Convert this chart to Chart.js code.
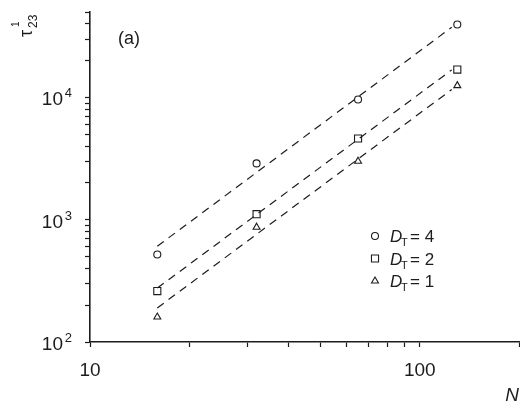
<!DOCTYPE html>
<html lang="en">
<head>
  <meta charset="UTF-8"/>
  <title>tau23 vs N</title>
  <script src="https://cdn.jsdelivr.net/npm/chart.js"></script>
  <style>
    html, body { margin: 0; padding: 0; background: #fff; }
    .wrap { width: 520px; height: 403px; position: relative; }
  </style>
</head>
<body>
<div class="wrap"><canvas id="tauChart" width="520" height="403"></canvas></div>
<script>
  // chain lengths N
  const nValues = [16, 32, 65, 130];
  // relaxation times for each D_T
  const tauD4 = [520, 2890, 9630, 39500];
  const tauD2 = [261, 1110, 4620, 16900];
  const tauD1 = [160, 869, 3010, 12500];
  // dashed guide lines (start / end)
  const fitN = [16, 125];
  const fitD4 = [607, 37500];
  const fitD2 = [276, 16800];
  const fitD1 = [190, 11600];
  // axis ticks
  const xTicks = [10, 20, 30, 40, 50, 60, 70, 80, 90, 100, 200];
  const xLabels = [10, 100];
  const yTicks = [100, 200, 300, 400, 500, 600, 700, 800, 900,
                  1000, 2000, 3000, 4000, 5000, 6000, 7000, 8000, 9000,
                  10000, 20000, 30000, 40000, 50000];
  const yLabels = [[100, '2'], [1000, '3'], [10000, '4']];
  const legendRows = ['4', '2', '1'];

  const FONT = '"Liberation Sans", Arial, sans-serif';
  const INK = '#1c1c1c';

  const pts = (xs, ys) => xs.map((x, i) => ({ x: x, y: ys[i] }));

  function markerSet(data, style, r) {
    return {
      type: 'scatter', data: data, pointStyle: style, pointRadius: r,
      pointBorderColor: INK, pointBackgroundColor: 'rgba(0,0,0,0)',
      pointBorderWidth: 1.1, showLine: false
    };
  }
  function fitSet(data) {
    return {
      type: 'line', data: data, borderColor: INK, borderWidth: 1.2,
      borderDash: [8, 6], pointRadius: 0, fill: false
    };
  }

  const decorPlugin = {
    id: 'decor',
    afterDraw(chart) {
      const ctx = chart.ctx;
      const ys = chart.scales.y;
      ctx.save();
      ctx.fillStyle = INK;
      ctx.textAlign = 'right';
      ctx.textBaseline = 'alphabetic';
      // y tick labels 10^n
      yLabels.forEach(([v, p]) => {
        const py = ys.getPixelForValue(v);
        ctx.font = '19px ' + FONT;
        ctx.fillText('10', 63, py + 8);
        ctx.font = '13px ' + FONT;
        ctx.fillText(p, 72, py);
      });
      // y axis title, rotated
      ctx.save();
      ctx.translate(32, 37);
      ctx.rotate(-Math.PI / 2);
      ctx.textAlign = 'left';
      ctx.font = '18px ' + FONT;
      ctx.fillText('\u03C4', 0, 0);
      ctx.font = '12px ' + FONT;
      ctx.fillText('23', 9, 5);
      ctx.font = '10px ' + FONT;
      ctx.fillText('1', 10, -13);
      ctx.restore();
      // panel label
      ctx.textAlign = 'left';
      ctx.font = '18px ' + FONT;
      ctx.fillText('(a)', 118, 44);
      // x axis title
      ctx.textAlign = 'right';
      ctx.font = 'italic 19px ' + FONT;
      ctx.fillText('N', 519, 401);
      // legend
      const sets = [chart.data.datasets[3], chart.data.datasets[4], chart.data.datasets[5]];
      legendRows.forEach((lab, i) => {
        const cy = 236 + i * 22.5;
        const ds = sets[i];
        ctx.strokeStyle = INK;
        ctx.fillStyle = 'rgba(0,0,0,0)';
        ctx.lineWidth = 1.1;
        Chart.helpers.drawPoint(ctx, { pointStyle: ds.pointStyle, radius: ds.pointRadius, rotation: 0, borderWidth: 1.1 }, 375, cy);
        ctx.fillStyle = INK;
        ctx.textAlign = 'left';
        ctx.font = 'italic 17px ' + FONT;
        ctx.fillText('D', 390, cy + 6);
        ctx.font = '11px ' + FONT;
        ctx.fillText('T', 401, cy + 10);
        ctx.font = '17px ' + FONT;
        ctx.fillText('= ' + lab, 410, cy + 6);
      });
      ctx.restore();
    }
  };

  new Chart(document.getElementById('tauChart'), {
    data: {
      datasets: [
        fitSet(pts(fitN, fitD4)),
        fitSet(pts(fitN, fitD2)),
        fitSet(pts(fitN, fitD1)),
        markerSet(pts(nValues, tauD4), 'circle', 3.5),
        markerSet(pts(nValues, tauD2), 'rect', 5),
        markerSet(pts(nValues, tauD1), 'triangle', 4)
      ]
    },
    options: {
      responsive: false,
      animation: false,
      layout: { autoPadding: false, padding: { top: 12, right: 1, left: 0, bottom: 0 } },
      plugins: { legend: { display: false }, tooltip: { enabled: false } },
      scales: {
        x: {
          type: 'logarithmic', min: 10, max: 200,
          afterBuildTicks: s => { s.ticks = xTicks.map(v => ({ value: v })); },
          afterFit: s => { s.height = 61; s.paddingLeft = 0; s.paddingRight = 0; },
          grid: { drawOnChartArea: false, drawTicks: true, tickLength: 5, tickColor: INK, tickWidth: 1.2 },
          border: { display: true, color: INK, width: 1.6 },
          ticks: {
            autoSkip: false, maxRotation: 0, padding: 12, color: INK,
            font: { family: FONT, size: 19 },
            callback: v => xLabels.includes(v) ? String(v) : ''
          }
        },
        y: {
          type: 'logarithmic', min: 100, max: 50000,
          afterBuildTicks: s => { s.ticks = yTicks.map(v => ({ value: v })); },
          afterFit: s => { s.width = 90; s.paddingTop = 0; s.paddingBottom = 0; },
          grid: { drawOnChartArea: false, drawTicks: true, tickLength: 5, tickColor: INK, tickWidth: 1.2 },
          border: { display: true, color: INK, width: 1.6 },
          ticks: { display: false, autoSkip: false }
        }
      }
    },
    plugins: [decorPlugin]
  });
</script>
</body>
</html>
